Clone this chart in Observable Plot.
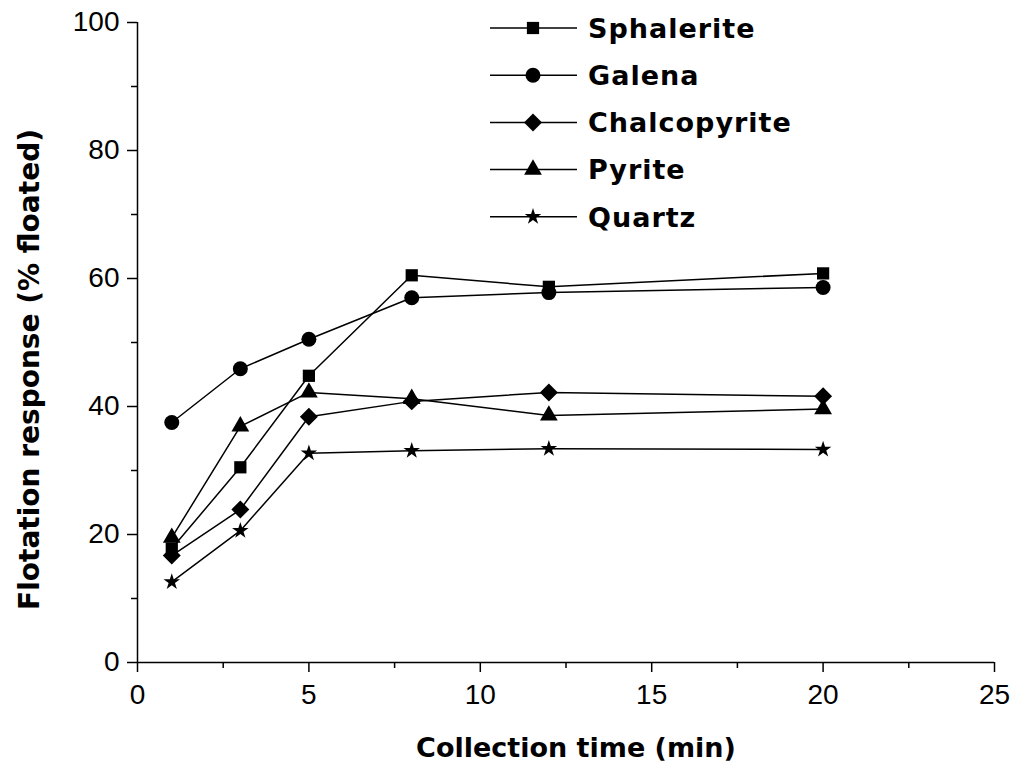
<!DOCTYPE html>
<html><head><meta charset="utf-8">
<script src="https://cdn.jsdelivr.net/npm/d3@7"></script>
<script src="https://cdn.jsdelivr.net/npm/@observablehq/plot@0.6"></script>
<style>body{margin:0;background:#fff} svg{display:block}</style>
</head><body><div id="chart"></div>
<script>
// ---- data ----
const times = [1, 3, 5, 8, 12, 20];
const sphalerite   = [17.8, 30.5, 44.8, 60.5, 58.7, 60.8];
const galena       = [37.5, 45.9, 50.5, 57.0, 57.8, 58.6];
const chalcopyrite = [16.7, 23.9, 38.4, 40.8, 42.2, 41.6];
const pyrite       = [19.5, 36.9, 42.2, 41.2, 38.6, 39.6];
const quartz       = [12.6, 20.6, 32.7, 33.1, 33.4, 33.3];
const seriesNames = ["Sphalerite", "Galena", "Chalcopyrite", "Pyrite", "Quartz"];
const seriesValues = [sphalerite, galena, chalcopyrite, pyrite, quartz];
const xMajorTicks = [0, 5, 10, 15, 20, 25];
const xMinorTicks = [2.5, 7.5, 12.5, 17.5, 22.5];
const yMajorTicks = [0, 20, 40, 60, 80, 100];
const yMinorTicks = [10, 30, 50, 70, 90];
const xTitle = "Collection time (min)";
const yTitle = "Flotation response (% floated)";

// ---- styles ----
const symbols = ["square", "circle", "diamond2", "triangle", "star"];
const radii = [6.9, 7.5, 8.1, 6.6, 5.2];
const d3Symbols = {square: d3.symbolSquare, circle: d3.symbolCircle, diamond2: d3.symbolDiamond2, triangle: d3.symbolTriangle, star: d3.symbolStar};
const tickFont = "'Liberation Sans', Arial, sans-serif";
const titleFont = "'DejaVu Sans', sans-serif";

const rows = [];
seriesNames.forEach((name, i) => times.forEach((t, j) => rows.push({series: name, time: t, value: seriesValues[i][j]})));

const marks = [
  Plot.axisX({ticks: xMajorTicks, tickSize: 10, tickPadding: 12, fontSize: 28, fontFamily: tickFont, label: null, strokeWidth: 1.5, tickFormat: d => d}),
  Plot.axisX({ticks: xMinorTicks, tickSize: 6, text: null, label: null, strokeWidth: 1.5}),
  Plot.axisY({ticks: yMajorTicks, tickSize: 10, tickPadding: 8, fontSize: 28, fontFamily: tickFont, label: null, strokeWidth: 1.5, tickFormat: d => d}),
  Plot.axisY({ticks: yMinorTicks, tickSize: 6, text: null, label: null, strokeWidth: 1.5}),
  Plot.ruleX([0], {stroke: "black", strokeWidth: 1.5}),
  Plot.ruleY([0], {stroke: "black", strokeWidth: 1.5}),
];
seriesNames.forEach((name, i) => {
  const d = rows.filter(r => r.series === name);
  marks.push(Plot.line(d, {x: "time", y: "value", stroke: "black", strokeWidth: 1.5}));
  marks.push(Plot.dot(d, {x: "time", y: "value", symbol: () => symbols[i], r: radii[i], fill: "black", stroke: "none"}));
});
marks.push(Plot.text([xTitle], {frameAnchor: "bottom", textAnchor: "middle", dx: 10, dy: 94, fontSize: 27, fontWeight: "bold", fontFamily: titleFont, letterSpacing: 1.5, fill: "black"}));
marks.push(Plot.text([yTitle], {frameAnchor: "left", textAnchor: "middle", dx: -107, dy: 27, rotate: -90, fontSize: 28, fontWeight: "bold", fontFamily: titleFont, letterSpacing: 1.8, fill: "black"}));

const chart = Plot.plot({
  width: 1015, height: 776,
  marginLeft: 137, marginRight: 21, marginTop: 22, marginBottom: 114,
  x: {domain: [0, 25]},
  y: {domain: [0, 100]},
  style: {background: "white", color: "black", overflow: "visible"},
  marks
});

// legend
const svg = d3.select(chart);
const lg = svg.append("g").attr("class", "legend").attr("text-anchor", "start");
seriesNames.forEach((name, i) => {
  const y = 28 + i * 47.2;
  const g = lg.append("g").attr("transform", `translate(0,${y})`);
  g.append("line").attr("x1", 490).attr("x2", 577).attr("y1", 0).attr("y2", 0).attr("stroke", "black").attr("stroke-width", 1.5);
  g.append("path").attr("transform", "translate(533,0)")
    .attr("d", d3.symbol(d3Symbols[symbols[i]], Math.PI * radii[i] * radii[i])())
    .attr("fill", "black");
  g.append("text").attr("x", 588).attr("y", 0).attr("dy", "0.36em").attr("text-anchor", "start")
    .attr("font-family", titleFont).attr("font-weight", "bold").attr("font-size", 27)
    .attr("letter-spacing", 1).attr("fill", "black").text(name);
});
document.getElementById("chart").appendChild(chart);
</script>
</body></html>
